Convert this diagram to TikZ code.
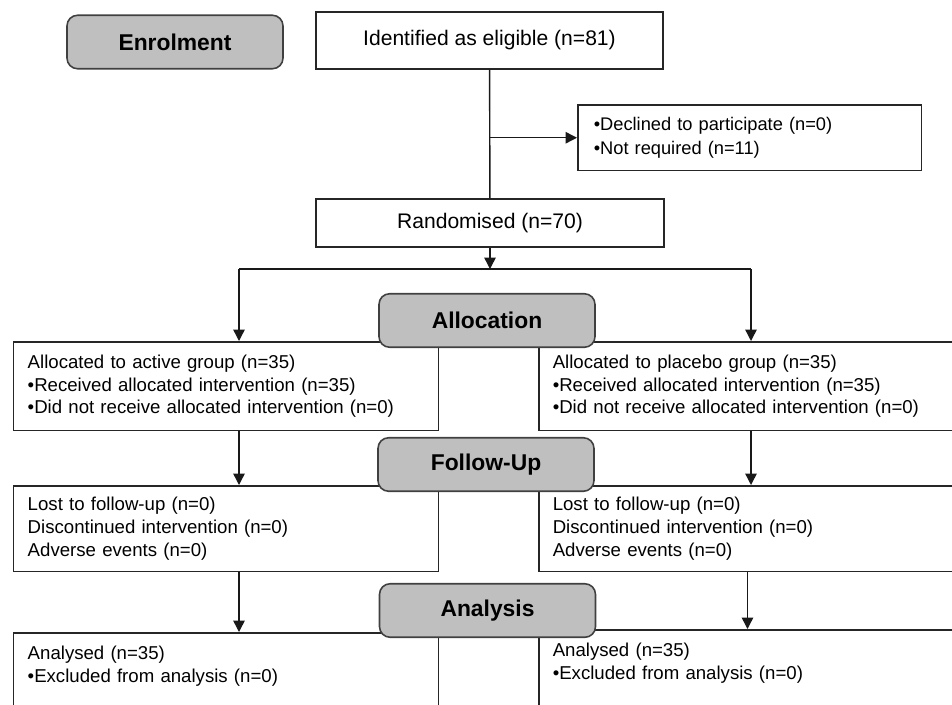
\documentclass[tikz,border=0pt]{standalone}
\usepackage{fontspec}
\setmainfont{Liberation Sans}
\usetikzlibrary{arrows.meta}

\begin{document}
\begin{tikzpicture}[x = 0.02cm, y = -0.02cm,
    stage/.style = {draw = black!75, fill = black!25, line width = 0.9pt, rounded corners = 6pt,
                    minimum width = 4.32cm, minimum height = 1.07cm, inner sep = 0pt,
                    font = \fontsize{13}{15}\selectfont\bfseries},
    plain/.style = {draw = black!85, fill = white, line width = 0.85pt, inner sep = 0pt},
    group/.style = {plain, align = left, anchor = north west, text width = 7.94cm,
                    inner xsep = 0.28cm, font = \fontsize{10.6}{13}\selectfont},
    link/.style = {draw = black!90, line width = 0.8pt},
    arr/.style = {link, -{Triangle[length = 6.5pt, width = 6.5pt]}}]

    \clip (0, 0) rectangle (952, 704);

    \node[plain, minimum width = 6.94cm, minimum height = 1.14cm,
          font = \fontsize{12}{14}\selectfont] (ident) at (489.5, 40.5) {Identified as eligible (n=81)};
    \node[plain, anchor = north west, align = left, text width = 6.24cm, inner xsep = 0.32cm,
          minimum height = 1.32cm, font = \fontsize{10.4}{13.6}\selectfont] (declined) at (577, 104)
          {\textbullet Declined to participate (n=0)\\ \textbullet Not required (n=11)};
    \node[plain, minimum width = 6.96cm, minimum height = 0.96cm,
          font = \fontsize{12}{14}\selectfont] (random) at (490, 223) {Randomised (n=70)};

    % active and placebo arms
    \node[group, minimum height = 1.78cm] (actA) at (13, 341)
          {Allocated to active group (n=35)\\ \textbullet Received allocated intervention (n=35)\\
           \textbullet Did not receive allocated intervention (n=0)};
    \node[group, minimum height = 1.78cm] (plcA) at (538, 341)
          {Allocated to placebo group (n=35)\\ \textbullet Received allocated intervention (n=35)\\
           \textbullet Did not receive allocated intervention (n=0)};
    \node[group, minimum height = 1.72cm] (actF) at (13, 485)
          {Lost to follow-up (n=0)\\ Discontinued intervention (n=0)\\ Adverse events (n=0)};
    \node[group, minimum height = 1.72cm] (plcF) at (538, 485)
          {Lost to follow-up (n=0)\\ Discontinued intervention (n=0)\\ Adverse events (n=0)};
    \node[group, inner ysep = 0.26cm, text depth = 2cm] (actN) at (13, 632)
          {Analysed (n=35)\\ \textbullet Excluded from analysis (n=0)};
    \node[group, inner ysep = 0.26cm, text depth = 2cm] (plcN) at (538, 629)
          {Analysed (n=35)\\ \textbullet Excluded from analysis (n=0)};

    \coordinate (fork)  at (490, 269);
    \coordinate (forkA) at (239, 269);
    \coordinate (forkP) at (751, 269);

    \draw[link] (ident) -- (random);
    \draw[arr] (ident.south |- declined.west) -- (declined.west);
    \draw[arr] (random) -- (fork);
    \draw[link] (forkA) -- (forkP);
    \draw[arr] (forkA) -- (forkA |- actA.north);
    \draw[arr] (forkP) -- (forkP |- plcA.north);
    \draw[arr] (forkA |- actA.south) -- (forkA |- actF.north);
    \draw[arr] (forkP |- plcA.south) -- (forkP |- plcF.north);
    \draw[arr] (forkA |- actF.south) -- (forkA |- actN.north);
    \draw[arr] ([xshift = -2]forkP |- plcF.south) -- ([xshift = -2]forkP |- plcN.north);

    \node[stage] (enrol)    at (175, 42)    {Enrolment};
    \node[stage] (alloc)    at (487, 320.5) {Allocation};
    \node[stage] (follow)   at (486, 464.5) {Follow-Up};
    \node[stage] (analysis) at (487.5, 610.5) {Analysis};
\end{tikzpicture}
\end{document}
